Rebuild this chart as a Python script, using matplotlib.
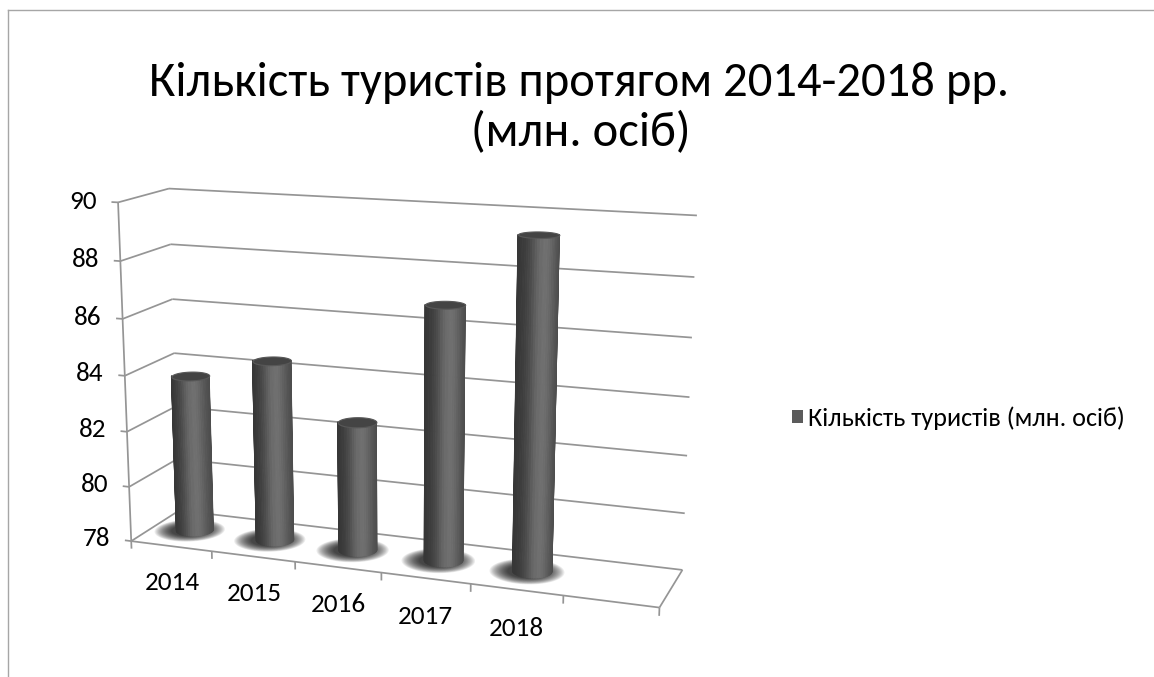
import numpy as np
import matplotlib
matplotlib.use("Agg")
import matplotlib.pyplot as plt
from matplotlib import font_manager
from matplotlib.lines import Line2D
from matplotlib.patches import Patch
from mpl_toolkits.mplot3d import proj3d
from mpl_toolkits.mplot3d.art3d import Poly3DCollection

# ---------------- data ----------------
years = ["2014", "2015", "2016", "2017", "2018"]
tourists = [83.7, 84.5, 82.6, 86.9, 89.4]
value_ticks = [78, 80, 82, 84, 86, 88, 90]
title_line1 = "Кількість туристів протягом 2014-2018 рр."
title_line2 = "(млн. осіб)"
series_name = "Кількість туристів (млн. осіб)"

# ---------------- fonts ----------------
installed = {f.name for f in font_manager.fontManager.ttflist}
fams = [f for f in ["Carlito", "Open Sans", "DejaVu Sans"] if f in installed]
plt.rcParams["font.family"] = fams
calibri_like = fams[0] == "Carlito"
fs_title = 35 if calibri_like else 29
fs_tick = 19.5 if calibri_like else 16.5
fs_leg = 18.8 if calibri_like else 15.5

W, H = 1154, 677
fig = plt.figure(figsize=(W / 100, H / 100), dpi=100)
fig.patch.set_facecolor("white")

# chart-area border (top and left visible)
fig.add_artist(Line2D([8 / W, 1.0], [1 - 10 / H, 1 - 10 / H], transform=fig.transFigure,
                      color="#a6a6a6", lw=1.0))
fig.add_artist(Line2D([8 / W, 8 / W], [0.0, 1 - 10 / H], transform=fig.transFigure,
                      color="#a6a6a6", lw=1.0))

fig.text(579 / W, 1 - 96 / H, title_line1, ha="center", va="baseline", fontsize=fs_title, color="black")
fig.text(581 / W, 1 - 146 / H, title_line2, ha="center", va="baseline", fontsize=fs_title, color="black")

# ---------------- 3D axes ----------------
n_slots = len(years) + 1          # category axis holds one empty slot after 2018
zmin, zmax = value_ticks[0], value_ticks[-1]
depth = 1.18
ELEV, AZIM = 14, -70

S0 = 600
ax = fig.add_axes([0.05, 0.05, S0 / W, S0 / H], projection="3d", computed_zorder=False)
ax.set_xlim(0, n_slots)
ax.set_ylim(0, depth)
ax.set_zlim(zmin, zmax)
ax.set_box_aspect((n_slots, depth, 3.82))
ax.view_init(elev=ELEV, azim=AZIM)
ax.set_proj_type("persp", focal_length=0.5)
ax.set_axis_off()
ax.patch.set_visible(False)

grid_kw = dict(color="#959595", lw=1.25, clip_on=False, zorder=1, solid_capstyle="butt")
for v in value_ticks:
    ax.plot([0, n_slots], [depth, depth], [v, v], **grid_kw)   # back wall
    ax.plot([0, 0], [0, depth], [v, v], **grid_kw)             # side wall
    ax.plot([0, -0.08], [0, 0], [v, v], **grid_kw)             # tick marks
ax.plot([0, 0], [0, 0], [zmin, zmax], **grid_kw)               # value axis
ax.plot([0, n_slots], [0, 0], [zmin, zmin], **grid_kw)         # floor front edge
ax.plot([n_slots, n_slots], [0, depth], [zmin, zmin], **grid_kw)
for i in range(n_slots + 1):
    ax.plot([i, i], [0, 0], [zmin, zmin - 0.28], **grid_kw)

# ---------------- cylinders ----------------
r = 0.21
az = np.deg2rad(AZIM)
edges = np.linspace(az - np.pi / 2 - 0.06, az + np.pi / 2 + 0.06, 29)
mids = 0.5 * (edges[:-1] + edges[1:])
s = np.sin(mids - az)
lum = 0.24 + 0.19 * np.exp(-((s - 0.2) / 0.6) ** 2) + 0.03 * s
lum = np.clip(lum, 0, 1)
side_cols = [(l, l, l, 1.0) for l in lum]
th_full = np.linspace(0, 2 * np.pi, 91)
for i, v in enumerate(tourists):
    cx, cy = i + 0.5, depth / 2
    # soft shadow on the floor
    for rr in np.linspace(1.9, 1.0, 16):
        ring = [(cx - 0.05 + rr * r * np.cos(t), cy - 0.03 + rr * r * np.sin(t), zmin + 0.01)
                for t in th_full]
        pc = Poly3DCollection([ring], facecolor=(0, 0, 0, 0.075), edgecolor="none", zorder=2)
        pc.set_clip_on(False)
        ax.add_collection3d(pc)
    quads = []
    for a0, a1 in zip(edges[:-1], edges[1:]):
        quads.append([(cx + r * np.cos(a0), cy + r * np.sin(a0), zmin),
                      (cx + r * np.cos(a1), cy + r * np.sin(a1), zmin),
                      (cx + r * np.cos(a1), cy + r * np.sin(a1), v),
                      (cx + r * np.cos(a0), cy + r * np.sin(a0), v)])
    side = Poly3DCollection(quads, facecolors=side_cols, edgecolors=side_cols,
                            linewidths=0.7, zorder=3)
    side.set_clip_on(False)
    ax.add_collection3d(side)
    cap = [(cx + r * np.cos(t), cy + r * np.sin(t), v) for t in th_full]
    pc = Poly3DCollection([cap], facecolor="#444444", edgecolor="#585858", linewidths=0.8, zorder=4)
    pc.set_clip_on(False)
    ax.add_collection3d(pc)

# ---------------- legend ----------------
fig.legend(handles=[Patch(facecolor="#5b5b5b", edgecolor="none")], labels=[series_name],
           loc="center left", bbox_to_anchor=(792 / W, 1 - 418 / H), frameon=False,
           handlelength=0.42, handleheight=0.42, handletextpad=0.2, borderpad=0,
           borderaxespad=0, fontsize=fs_leg)

# ---------------- place the 3D box on the canvas ----------------
def project(points):
    xs, ys, zs = (np.array(c, float) for c in zip(*points))
    px, py, _ = proj3d.proj_transform(xs, ys, zs, ax.M)
    return ax.transData.transform(np.column_stack([px, py]))

fig.canvas.draw()
anchors3d = [(0, 0, zmax), (0, 0, zmin), (0, depth, zmax), (n_slots, depth, zmax),
             (n_slots, depth, zmin), (n_slots, 0, zmin)]
targets_img = np.array([(122, 198), (137, 542), (166, 185), (694, 213), (680, 577), (658, 610)], float)
targets = np.column_stack([targets_img[:, 0], H - targets_img[:, 1]])
p = project(anchors3d)
pm, qm = p.mean(0), targets.mean(0)
sc = np.sum((p - pm) * (targets - qm)) / np.sum((p - pm) ** 2)
t = qm - sc * pm
bb = ax.get_position()
O0 = np.array([bb.x0 * W, bb.y0 * H])
S1 = sc * bb.width * W
O1 = sc * O0 + t
ax.set_position([O1[0] / W, O1[1] / H, S1 / W, S1 / H])
fig.canvas.draw()

# ---------------- axis labels (placed through the 3D projection) ----------------
lab_pts = project([(-0.26, 0, v) for v in value_ticks])
for (xd, yd), v in zip(lab_pts, value_ticks):
    fig.text(xd / W, yd / H, str(v), ha="right", va="center", fontsize=fs_tick)
cat_pts = project([(i + 0.5, 0, zmin - 1.35) for i in range(len(years))])
for (xd, yd), yr in zip(cat_pts, years):
    fig.text(xd / W, yd / H, yr, ha="center", va="center", fontsize=fs_tick)

fig.savefig("out.png", dpi=100, facecolor="white")
